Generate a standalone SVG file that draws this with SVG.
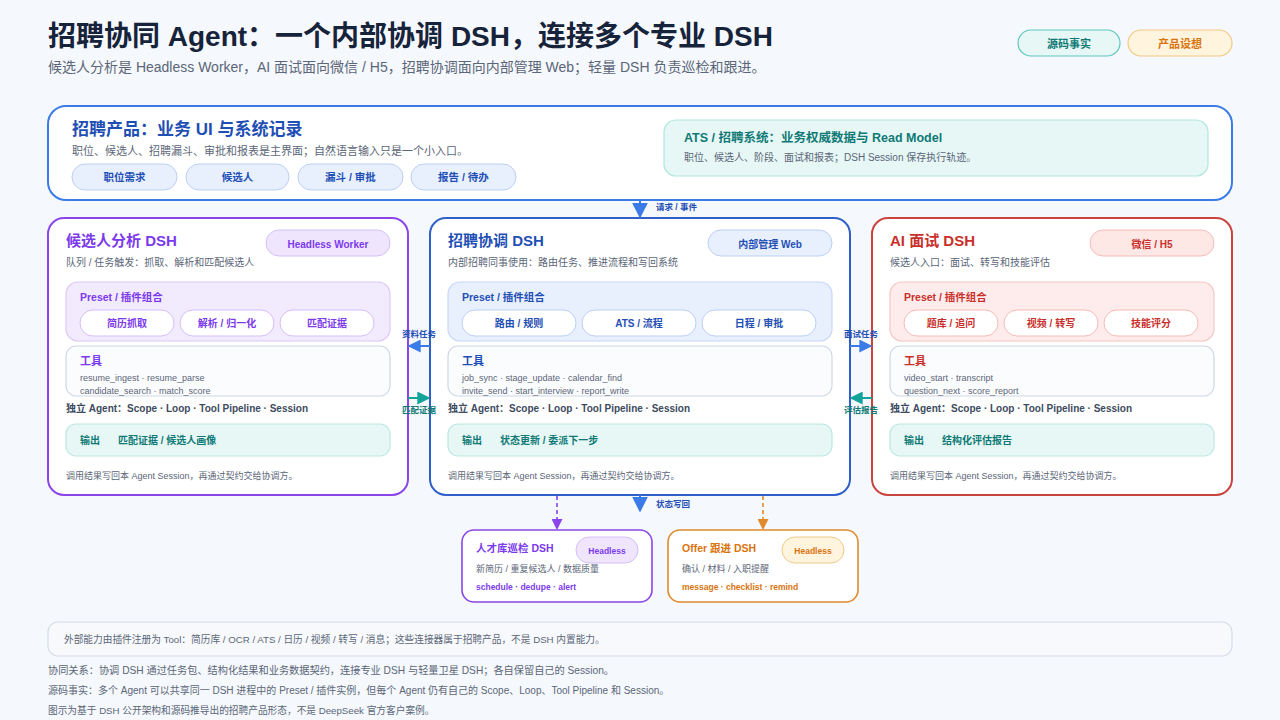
<svg xmlns="http://www.w3.org/2000/svg" width="1280" height="720" viewBox="0 0 1280 720">
<style>
text{font-family:"Liberation Sans","Noto Sans CJK SC",sans-serif}
.b{font-weight:bold}
.gray{fill:#5b6678}
.dark{fill:#3d4b60}
.pu{fill:#7c3aed}.bl{fill:#1f4fb5}.rd{fill:#c9302c}.tl{fill:#0f7a75}.or{fill:#d9730d}
.pill{fill:#fff}
.tools{fill:#fbfcfe;stroke:#cfd8e6;stroke-width:1.2}
.out{fill:#e6f7f5;stroke:#bde8e2;stroke-width:1.2}
.mid{text-anchor:middle}
</style>
<defs>
<marker id="ab" viewBox="0 0 10 10" refX="9" refY="5" markerWidth="13" markerHeight="13" markerUnits="userSpaceOnUse" orient="auto"><path d="M0,0L10,5L0,10z" fill="#3b7be8"/></marker>
<marker id="abL" viewBox="0 0 10 10" refX="9" refY="5" markerWidth="16" markerHeight="16" markerUnits="userSpaceOnUse" orient="auto"><path d="M0,0L10,5L0,10z" fill="#3b7be8"/></marker>
<marker id="at" viewBox="0 0 10 10" refX="9" refY="5" markerWidth="13" markerHeight="13" markerUnits="userSpaceOnUse" orient="auto"><path d="M0,0L10,5L0,10z" fill="#14a39a"/></marker>
<marker id="ap" viewBox="0 0 10 10" refX="9" refY="5" markerWidth="11" markerHeight="11" markerUnits="userSpaceOnUse" orient="auto"><path d="M0,0L10,5L0,10z" fill="#8b45e8"/></marker>
<marker id="ao" viewBox="0 0 10 10" refX="9" refY="5" markerWidth="11" markerHeight="11" markerUnits="userSpaceOnUse" orient="auto"><path d="M0,0L10,5L0,10z" fill="#e08a2e"/></marker>
</defs>
<rect width="1280" height="720" fill="#f5f8fc"/>

<g id="header">
<text x="48" y="46" font-size="28" class="b" fill="#16233a">招聘协同 Agent：一个内部协调 DSH，连接多个专业 DSH</text>
<text x="48" y="72" font-size="14" class="gray">候选人分析是 Headless Worker，AI 面试面向微信 / H5，招聘协调面向内部管理 Web；轻量 DSH 负责巡检和跟进。</text>
</g>
<g id="legend">
<rect x="1018" y="30" width="102" height="26" rx="13" fill="#e6f7f5" stroke="#5fc6c0" stroke-width="1.2"/>
<text x="1069" y="47.500" font-size="11" class="b tl mid">源码事实</text>
<rect x="1128" y="30" width="104" height="26" rx="13" fill="#fff4dd" stroke="#f2c987" stroke-width="1.2"/>
<text x="1180" y="47.500" font-size="11" class="b or mid">产品设想</text>
</g>

<g id="product">
<rect x="48" y="106" width="1184" height="94" rx="18" fill="#fff" stroke="#3b7be8" stroke-width="2"/>
<text x="72" y="135" font-size="17" class="b bl">招聘产品：业务 UI 与系统记录</text>
<text x="72" y="155" font-size="11" class="gray">职位、候选人、招聘漏斗、审批和报表是主界面；自然语言输入只是一个小入口。</text>
<g font-size="10.500" class="b">
<rect x="72" y="164" width="105" height="26" rx="13" fill="#e8f0fe" stroke="#bcd0f5"/>
<text x="124.500" y="181" class="bl mid">职位需求</text>
<rect x="186" y="164" width="103" height="26" rx="13" fill="#e8f0fe" stroke="#bcd0f5"/>
<text x="237.500" y="181" class="bl mid">候选人</text>
<rect x="298" y="164" width="105" height="26" rx="13" fill="#e8f0fe" stroke="#bcd0f5"/>
<text x="350.500" y="181" class="bl mid">漏斗 / 审批</text>
<rect x="411" y="164" width="105" height="26" rx="13" fill="#e8f0fe" stroke="#bcd0f5"/>
<text x="463.500" y="181" class="bl mid">报告 / 待办</text>
</g>
</g>
<g id="ats">
<rect x="664" y="120" width="544" height="56" rx="12" fill="#e6f7f5" stroke="#b3e5df" stroke-width="1.2"/>
<text x="684" y="142" font-size="12.500" class="b tl">ATS / 招聘系统：业务权威数据与 Read Model</text>
<text x="684" y="161" font-size="10" class="gray">职位、候选人、阶段、面试和报表；DSH Session 保存执行轨迹。</text>
</g>

<g id="analysis">
<rect x="48" y="218" width="360" height="277" rx="16" fill="#fff" stroke="#8b45e8" stroke-width="2"/>
<text x="66" y="246" font-size="15" class="b pu">候选人分析 DSH</text>
<rect x="266" y="230" width="124" height="26" rx="13" fill="#efe6fd" stroke="#d5bff8"/>
<text x="328" y="247.500" font-size="10" class="b pu mid">Headless Worker</text>
<text x="66" y="266" font-size="10" class="gray">队列 / 任务触发：抓取、解析和匹配候选人</text>
<rect x="66" y="282" width="324" height="59" rx="12" fill="#f2eafd" stroke="#dcc8f8" stroke-width="1.2"/>
<text x="80" y="301" font-size="10.500" class="b pu">Preset / 插件组合</text>
<g font-size="10" class="b">
<rect x="80" y="310" width="94" height="26" rx="13" class="pill" stroke="#d5bff8"/><text x="127" y="327" class="pu mid">简历抓取</text>
<rect x="180" y="310" width="94" height="26" rx="13" class="pill" stroke="#d5bff8"/><text x="227" y="327" class="pu mid">解析 / 归一化</text>
<rect x="280" y="310" width="94" height="26" rx="13" class="pill" stroke="#d5bff8"/><text x="327" y="327" class="pu mid">匹配证据</text>
</g>
<rect x="66" y="346" width="324" height="50" rx="10" class="tools"/>
<text x="80" y="365" font-size="11" class="b pu">工具</text>
<text x="80" y="381" font-size="9" class="gray">resume_ingest · resume_parse</text>
<text x="80" y="394" font-size="9" class="gray">candidate_search · match_score</text>
<text x="66" y="412" font-size="10" class="b dark">独立 Agent：Scope · Loop · Tool Pipeline · Session</text>
<rect x="66" y="424" width="324" height="32" rx="10" class="out"/>
<text x="80" y="444" font-size="10" class="b tl">输出</text>
<text x="118" y="444" font-size="10" class="b tl">匹配证据 / 候选人画像</text>
<text x="66" y="479" font-size="9" class="gray">调用结果写回本 Agent Session，再通过契约交给协调方。</text>
</g>

<g id="coord">
<rect x="430" y="218" width="420" height="277" rx="16" fill="#fff" stroke="#2f5fc8" stroke-width="2"/>
<text x="448" y="246" font-size="15" class="b bl">招聘协调 DSH</text>
<rect x="708" y="230" width="124" height="26" rx="13" fill="#e8f0fe" stroke="#bcd0f5"/>
<text x="770" y="247.500" font-size="10" class="b bl mid">内部管理 Web</text>
<text x="448" y="266" font-size="10" class="gray">内部招聘同事使用：路由任务、推进流程和写回系统</text>
<rect x="448" y="282" width="384" height="59" rx="12" fill="#e8f0fe" stroke="#c8d8f8" stroke-width="1.2"/>
<text x="462" y="301" font-size="10.500" class="b bl">Preset / 插件组合</text>
<g font-size="10" class="b">
<rect x="462" y="310" width="114" height="26" rx="13" class="pill" stroke="#bcd0f5"/><text x="519" y="327" class="bl mid">路由 / 规则</text>
<rect x="582" y="310" width="114" height="26" rx="13" class="pill" stroke="#bcd0f5"/><text x="639" y="327" class="bl mid">ATS / 流程</text>
<rect x="702" y="310" width="114" height="26" rx="13" class="pill" stroke="#bcd0f5"/><text x="759" y="327" class="bl mid">日程 / 审批</text>
</g>
<rect x="448" y="346" width="384" height="50" rx="10" class="tools"/>
<text x="462" y="365" font-size="11" class="b bl">工具</text>
<text x="462" y="381" font-size="9" class="gray">job_sync · stage_update · calendar_find</text>
<text x="462" y="394" font-size="9" class="gray">invite_send · start_interview · report_write</text>
<text x="448" y="412" font-size="10" class="b dark">独立 Agent：Scope · Loop · Tool Pipeline · Session</text>
<rect x="448" y="424" width="384" height="32" rx="10" class="out"/>
<text x="462" y="444" font-size="10" class="b tl">输出</text>
<text x="500" y="444" font-size="10" class="b tl">状态更新 / 委派下一步</text>
<text x="448" y="479" font-size="9" class="gray">调用结果写回本 Agent Session，再通过契约交给协调方。</text>
</g>

<g id="interview">
<rect x="872" y="218" width="360" height="277" rx="16" fill="#fff" stroke="#c9443f" stroke-width="2"/>
<text x="890" y="246" font-size="15" class="b rd">AI 面试 DSH</text>
<rect x="1090" y="230" width="124" height="26" rx="13" fill="#fde8e6" stroke="#f5bcb7"/>
<text x="1152" y="247.500" font-size="10" class="b rd mid">微信 / H5</text>
<text x="890" y="266" font-size="10" class="gray">候选人入口：面试、转写和技能评估</text>
<rect x="890" y="282" width="324" height="59" rx="12" fill="#fdeceb" stroke="#f5c6c2" stroke-width="1.2"/>
<text x="904" y="301" font-size="10.500" class="b rd">Preset / 插件组合</text>
<g font-size="10" class="b">
<rect x="904" y="310" width="94" height="26" rx="13" class="pill" stroke="#f5bcb7"/><text x="951" y="327" class="rd mid">题库 / 追问</text>
<rect x="1004" y="310" width="94" height="26" rx="13" class="pill" stroke="#f5bcb7"/><text x="1051" y="327" class="rd mid">视频 / 转写</text>
<rect x="1104" y="310" width="94" height="26" rx="13" class="pill" stroke="#f5bcb7"/><text x="1151" y="327" class="rd mid">技能评分</text>
</g>
<rect x="890" y="346" width="324" height="50" rx="10" class="tools"/>
<text x="904" y="365" font-size="11" class="b rd">工具</text>
<text x="904" y="381" font-size="9" class="gray">video_start · transcript</text>
<text x="904" y="394" font-size="9" class="gray">question_next · score_report</text>
<text x="890" y="412" font-size="10" class="b dark">独立 Agent：Scope · Loop · Tool Pipeline · Session</text>
<rect x="890" y="424" width="324" height="32" rx="10" class="out"/>
<text x="904" y="444" font-size="10" class="b tl">输出</text>
<text x="942" y="444" font-size="10" class="b tl">结构化评估报告</text>
<text x="890" y="479" font-size="9" class="gray">调用结果写回本 Agent Session，再通过契约交给协调方。</text>
</g>

<g id="talent">
<rect x="462" y="530" width="190" height="72" rx="12" fill="#fff" stroke="#8b45e8" stroke-width="1.6"/>
<text x="476" y="552" font-size="10.500" class="b pu">人才库巡检 DSH</text>
<rect x="576" y="537" width="62" height="26" rx="13" fill="#efe6fd" stroke="#d5bff8"/>
<text x="607" y="554" font-size="8.500" class="b pu mid">Headless</text>
<text x="476" y="572" font-size="9" class="gray">新简历 / 重复候选人 / 数据质量</text>
<text x="476" y="590" font-size="8.500" class="b pu">schedule · dedupe · alert</text>
</g>
<g id="offer">
<rect x="668" y="530" width="190" height="72" rx="12" fill="#fff" stroke="#e08a2e" stroke-width="1.6"/>
<text x="682" y="552" font-size="10.500" class="b or">Offer 跟进 DSH</text>
<rect x="782" y="537" width="62" height="26" rx="13" fill="#fff4dd" stroke="#f2c987"/>
<text x="813" y="554" font-size="8.500" class="b or mid">Headless</text>
<text x="682" y="572" font-size="9" class="gray">确认 / 材料 / 入职提醒</text>
<text x="682" y="590" font-size="8.500" class="b or">message · checklist · remind</text>
</g>

<g id="connectors" font-size="8.500" class="b">
<line x1="640" y1="200" x2="640" y2="217" stroke="#3b7be8" stroke-width="2" marker-end="url(#abL)"/>
<text x="656" y="210" class="bl">请求 / 事件</text>
<line x1="430" y1="346" x2="409" y2="346" stroke="#3b7be8" stroke-width="2" marker-end="url(#ab)"/>
<text x="419" y="337" class="bl mid">资料任务</text>
<line x1="408" y1="398" x2="429" y2="398" stroke="#14a39a" stroke-width="2" marker-end="url(#at)"/>
<text x="419" y="413" class="tl mid">匹配证据</text>
<line x1="850" y1="346" x2="871" y2="346" stroke="#3b7be8" stroke-width="2" marker-end="url(#ab)"/>
<text x="861" y="337" class="bl mid">面试任务</text>
<line x1="872" y1="398" x2="851" y2="398" stroke="#14a39a" stroke-width="2" marker-end="url(#at)"/>
<text x="861" y="413" class="tl mid">评估报告</text>
<line x1="640" y1="495" x2="640" y2="511" stroke="#3b7be8" stroke-width="2" marker-end="url(#abL)"/>
<text x="656" y="507" class="bl">状态写回</text>
<line x1="557" y1="496" x2="557" y2="529" stroke="#8b45e8" stroke-width="1.6" stroke-dasharray="4 3" marker-end="url(#ap)"/>
<line x1="763" y1="496" x2="763" y2="529" stroke="#e08a2e" stroke-width="1.6" stroke-dasharray="4 3" marker-end="url(#ao)"/>
</g>

<g id="notes">
<rect x="48" y="622" width="1184" height="34" rx="10" fill="#f7f9fc" stroke="#d5dce8" stroke-width="1.2"/>
<text x="64" y="643" font-size="9.700" class="gray">外部能力由插件注册为 Tool：简历库 / OCR / ATS / 日历 / 视频 / 转写 / 消息；这些连接器属于招聘产品，不是 DSH 内置能力。</text>
<text x="48" y="674" font-size="10.200" class="gray">协同关系：协调 DSH 通过任务包、结构化结果和业务数据契约，连接专业 DSH 与轻量卫星 DSH；各自保留自己的 Session。</text>
<text x="48" y="694" font-size="10" class="gray">源码事实：多个 Agent 可以共享同一 DSH 进程中的 Preset / 插件实例，但每个 Agent 仍有自己的 Scope、Loop、Tool Pipeline 和 Session。</text>
<text x="48" y="714" font-size="9.700" class="gray">图示为基于 DSH 公开架构和源码推导出的招聘产品形态，不是 DeepSeek 官方客户案例。</text>
</g>
</svg>
